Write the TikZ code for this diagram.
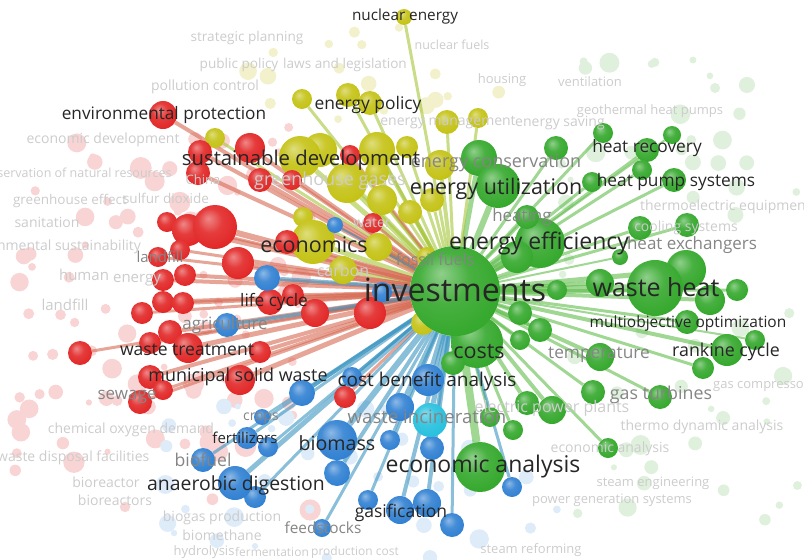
\documentclass[tikz,border=0pt]{standalone}
\usepackage{fontspec}
\setmainfont{Open Sans}
\usetikzlibrary{positioning}

\definecolor{vgreen}{RGB}{52,168,44}
\definecolor{vyellow}{RGB}{196,194,20}
\definecolor{vred}{RGB}{226,38,38}
\definecolor{vblue}{RGB}{48,128,210}
\definecolor{vcyan}{RGB}{38,192,222}
% cores das arestas
\definecolor{egreen}{RGB}{95,188,75}
\definecolor{eyellow}{RGB}{165,196,55}
\definecolor{ered}{RGB}{214,105,82}
\definecolor{eblue}{RGB}{58,148,192}

% sombreado das bolas
\makeatletter
\pgfdeclareradialshading[tikz@ball]{vball}{\pgfqpoint{-8bp}{10bp}}{%
  color(0bp)=(tikz@ball!55!white); color(14bp)=(tikz@ball!90!white);
  color(30bp)=(tikz@ball); color(52bp)=(tikz@ball!78!black)}
\makeatother

\pgfdeclarelayer{bg}
\pgfdeclarelayer{edges}
\pgfdeclarelayer{top}
\pgfsetlayers{bg,edges,main,top}

\tikzset{
  term/.style={circle, inner sep=0pt, ball color=#1, shading=vball},
  link/.style={draw=#1, draw opacity=.6},
  lbl/.style={inner sep=0pt, text=black!85, font=\fontsize{#1}{#1}\selectfont},
  lblm/.style={inner sep=0pt, text=black!48, font=\fontsize{#1}{#1}\selectfont},
  lblf/.style={inner sep=0pt, text=black!20, font=\fontsize{#1}{#1}\selectfont}
}

\begin{document}
\begin{tikzpicture}[x=1pt, y=-1pt]
    \useasboundingbox (0,0) rectangle (804,560);

    % Termos de fundo (apagados)
    \begin{pgfonlayer}{bg}
        \pgfmathsetseed{11}
        \foreach \i in {1,...,95} {
            \pgfmathsetmacro\px{15+300*rnd}
            \pgfmathsetmacro\py{125+395*rnd}
            \pgfmathsetmacro\pr{3+8*rnd}
            \fill[vred!20] (\px,\py) circle[radius=\pr];
        }
        \foreach \i in {1,...,60} {
            \pgfmathsetmacro\px{560+240*rnd}
            \pgfmathsetmacro\py{60+460*rnd}
            \pgfmathsetmacro\pr{3+7*rnd}
            \fill[vgreen!16] (\px,\py) circle[radius=\pr];
        }
        \foreach \i in {1,...,35} {
            \pgfmathsetmacro\px{160+400*rnd}
            \pgfmathsetmacro\py{405+155*rnd}
            \pgfmathsetmacro\pr{3+7*rnd}
            \fill[vblue!16] (\px,\py) circle[radius=\pr];
        }
        \foreach \i in {1,...,18} {
            \pgfmathsetmacro\px{190+330*rnd}
            \pgfmathsetmacro\py{25+100*rnd}
            \pgfmathsetmacro\pr{3+6*rnd}
            \fill[vyellow!22] (\px,\py) circle[radius=\pr];
        }
    \end{pgfonlayer}

    % No central
    \begin{pgfonlayer}{top}
        \node[term=vgreen, minimum size=90pt] (inv) at (455,291) {};
    \end{pgfonlayer}

    % Cluster verde
    \foreach \n/\x/\y/\r/\w in {g1/686/270/20/5, wh/655/288/28/8, ee/540/243/25/7, g2/517/257/16/5,
        g3/479/158/18/5, eu/498/186/22/6, g4/556/148/12/3, g5/603/133/10/3, g6/647/150/12/3,
        g7/672/135/9/2, g8/642/170/10/3, g9/592/182/10/3, g10/674/180/12/3, g11/527/217/12/3,
        g12/640/228/12/3, g13/687/225/12/3, g14/620/257/8/2, g15/737/290/11/3, g16/710/300/15/4,
        g17/600/283/14/4, g18/557/290/10/3, g19/520/313/12/3, g20/687/322/12/3, rc/727/350/16/4,
        g21/755/340/10/2, g22/703/368/11/3, g23/600/357/14/4, g24/540/330/12/3, g25/520/340/10/3,
        costs/477/342/26/7, g26/453/363/12/4, g27/593/392/12/3, g28/660/397/12/3, g29/552/410/14/4,
        g30/527/403/12/4, g31/490/417/10/3, g32/513/430/10/3, g33/608/448/10/3, ea/480/467/25/8} {
        \node[term=vgreen, minimum size={2*\r pt}] (\n) at (\x,\y) {};
        \begin{pgfonlayer}{edges}
            \draw[link=egreen, line width=\w pt] (inv) -- (\n);
        \end{pgfonlayer}
    }

    % Cluster amarelo
    \foreach \n/\x/\y/\r/\w in {ne/404/17/8/3, y1/302/99/10/3, y2/348/95/12/3, y3/370/103/12/3,
        y4/215/138/10/3, y9/447/122/12/3, y10/478/118/10/3, y8/407/147/11/3, y5/320/150/17/4,
        sd/300/157/21/5, y7/377/150/18/4, y6/347/183/20/5, y11/440/165/15/4, y15/377/173/12/3,
        y12/382/200/15/4, y14/432/200/12/3, y13/410/212/12/3, y16/303/217/10/3, y17/378/247/14/4,
        econ/313/242/22/5, y18/343/270/14/4, y20/427/257/10/3, y19/423/323/12/3} {
        \node[term=vyellow, minimum size={2*\r pt}] (\n) at (\x,\y) {};
        \begin{pgfonlayer}{edges}
            \draw[link=eyellow, line width=\w pt] (inv) -- (\n);
        \end{pgfonlayer}
    }

    % Cluster vermelho
    \foreach \n/\x/\y/\r/\w in {ep/163/115/14/4, r1/200/152/12/4, r2/250/148/15/4, r3/198/173/12/4,
        r4/260/180/12/4, r5/292/180/10/3, r6/350/155/10/3, r7/167/222/10/3, r8/188/230/16/5,
        r9/215/227/22/6, r10/180/250/10/3, r11/158/257/10/3, r12/238/263/16/5, r13/163/280/11/4,
        r14/185/275/11/4, r15/163/302/11/4, r16/183/303/11/4, r17/142/313/11/3, r18/270/302/13/4,
        r19/293/295/11/3, r20/315/313/14/4, r21/370/313/16/5, r22/170/332/12/4, r23/150/343/11/3,
        r24/188/348/15/5, r25/80/353/12/3, r26/260/352/11/4, r27/373/223/10/3, r28/287/242/12/4,
        r29/240/380/15/5, r30/150/377/12/4, r31/140/402/12/3, r32/163/390/10/3, r33/345/397/11/3} {
        \node[term=vred, minimum size={2*\r pt}] (\n) at (\x,\y) {};
        \begin{pgfonlayer}{edges}
            \draw[link=ered, line width=\w pt] (inv) -- (\n);
        \end{pgfonlayer}
    }

    % Cluster azul
    \foreach \n/\x/\y/\r/\w in {b3/335/225/8/2, b1/267/278/13/4, b4/382/292/10/3, b2/227/325/12/4,
        b6/352/377/10/3, b5/302/393/13/4, b8/428/380/16/5, b7/400/407/14/4, b9/262/417/8/2,
        b12/247/438/11/3, b13/268/447/10/3, b22/432/448/12/4, b11/390/440/10/3, bm/337/440/20/6,
        b10/337/473/13/4, b14/203/460/12/3, b15/255/497/11/3, ad/235/483/17/5, b16/368/500/10/3,
        b17/400/510/14/4, b18/427/503/14/4, b19/452/525/12/3, b20/512/487/10/3, b21/322/528/9/3} {
        \node[term=vblue, minimum size={2*\r pt}] (\n) at (\x,\y) {};
        \begin{pgfonlayer}{edges}
            \draw[link=eblue, line width=\w pt] (inv) -- (\n);
        \end{pgfonlayer}
    }
    \node[term=vcyan, minimum size=34pt] (wi) at (430,420) {};
    \begin{pgfonlayer}{edges}
        \draw[link=eblue, line width=5pt] (inv) -- (wi);
    \end{pgfonlayer}

    % Rotulos
    \begin{pgfonlayer}{top}
        \foreach \t/\x/\y/\s [count=\i] in {strategic planning/247/38/13.6, public policy/239/65/13.6,
            laws and legislation/345/65/13.6, pollution control/205/87/14, nuclear fuels/452/45/12.5,
            housing/502/80/13, ventilation/590/82/13, geothermal heat pumps/650/111/13,
            energy management/448/123/14, energy saving/560/123/14, economic development/103/140/14,
            China/203/180/13, greenhouse effect/70/201/13.5, sulfur dioxide/166/198/13.5,
            sanitation/47/222/14, human/84/275/15, energy/137/280/15, landfill/65/305/15,
            cooling systems/686/228/14, thermo dynamic analysis/702/427/14, economic analysis/610/449/14,
            steam engineering/653/483/13, power generation systems/612/500/13, steam reforming/531/550/13,
            chemical oxygen demand/131/430/14, bioreactor/106/482/14, bioreactors/115/500/14,
            biogas production/222/518/14, biomethane/222/535/14, hydrolysis/204/552/13,
            fermentation/272/552/12, production cost/355/552/12, carbon/343/270/16, water/372/223/14,
            electric power plants/552/408/16, greenhouse gases/330/181/18} {
            \node[lblf=\s] (f\i) at (\x,\y) {\t};
        }
        \node[lblf=12.5, anchor=west] (f37) at (-24,173) {conservation of natural resources};
        \node[lblf=14, anchor=west] (f38) at (-44,247) {environmental sustainability};
        \node[lblf=14, anchor=west] (f39) at (640,207) {thermoelectric equipment};
        \node[lblf=13, anchor=west] (f40) at (713,387) {gas compressors};
        \node[lblf=14, anchor=west] (f41) at (-3,458) {waste disposal facilities};

        \foreach \t/\x/\y/\s [count=\i] in {heat exchangers/692/245/17, temperature/599/355/17.3,
            gas turbines/661/395/17.8, sewage/127/397/17, agriculture/225/325/17, biofuel/203/460/17.6,
            feedstocks/323/528/15.4, crops/261/418/14, heating/522/217/17, fossil fuels/435/259/16,
            landfill/160/257/15, energy conservation/496/163/18, waste incineration/427/417/18.6} {
            \node[lblm=\s] (m\i) at (\x,\y) {\t};
        }

        \foreach \t/\x/\y/\s [count=\i] in {nuclear energy/405/17/15.3, energy policy/368/105/17.4,
            environmental protection/164/115/17.2, sustainable development/301/160/20.3,
            energy utilization/496/189/21.5, heat recovery/647/148/17.3, heat pump systems/676/182/17.3,
            economics/314/245/21.5, energy efficiency/539/243/23, investments/455/290/32,
            waste heat/656/287/25, life cycle/274/302/17.2, multiobjective optimization/688/323/15.5,
            waste treatment/187/350/17.5, costs/479/352/21.5, rankine cycle/726/352/17.8,
            municipal solid waste/238/377/17.9, cost benefit analysis/427/382/19,
            biomass/337/443/19.6, economic analysis/483/467/23, anaerobic digestion/236/485/19.4,
            gasification/401/513/17.5, fertilizers/245/438/15} {
            \node[lbl=\s] (d\i) at (\x,\y) {\t};
        }
    \end{pgfonlayer}
\end{tikzpicture}
\end{document}
